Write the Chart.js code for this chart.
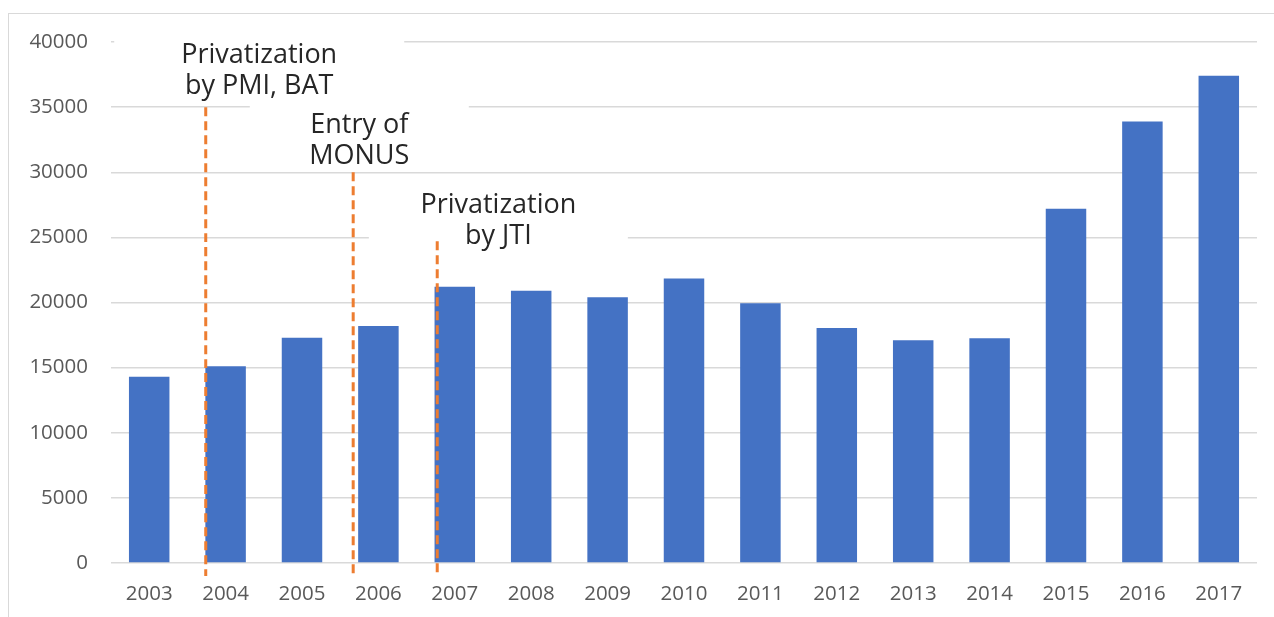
<!DOCTYPE html>
<html>
<head>
<meta charset="utf-8">
<script src="https://cdn.jsdelivr.net/npm/chart.js@4"></script>
<style>
  html, body { margin: 0; padding: 0; background: #ffffff; overflow: hidden; }
  #frame { position: absolute; left: 8px; top: 13px; width: 1400px; height: 800px; border: 1.5px solid #d9d9d9; box-sizing: border-box; }
  #wrap { position: absolute; left: 0; top: 0; width: 1274px; height: 617px; }
</style>
</head>
<body>
<div id="frame"></div>
<div id="wrap"><canvas id="c"></canvas></div>
<script>
// ---- data ----
const years = ['2003','2004','2005','2006','2007','2008','2009','2010','2011','2012','2013','2014','2015','2016','2017'];
const values = [14300, 15100, 17300, 18200, 21200, 20900, 20400, 21850, 19950, 18050, 17100, 17250, 27200, 33900, 37400];
const yTicks = [0, 5000, 10000, 15000, 20000, 25000, 30000, 35000, 40000];

// event markers (position in category units, top / bottom in data units)
const eventPos = [0.74, 2.67, 3.77];
const eventTop = [35000, 30000, 24700];
const eventBottom = [-1000, -1000, -850];

// annotation labels (center in category units, first-line center in data units)
const noteLines = [['Privatization', 'by PMI, BAT'], ['Entry of', 'MONUS'], ['Privatization', 'by JTI']];
const notePos = [1.44, 2.75, 4.57];
const noteY = [38940, 33590, 27440];

// ---- styles ----
const noteBoxW = [290, 219, 259];
const noteFont = '27px "Open Sans"';
const lineGap = 31;

function catPx(x, pos) {
  const f = Math.floor(pos);
  const step = x.getPixelForValue(1) - x.getPixelForValue(0);
  return x.getPixelForValue(f) + (pos - f) * step;
}

const annot = {
  id: 'annot',
  beforeDatasetsDraw(chart) {
    const ctx = chart.ctx, x = chart.scales.x, y = chart.scales.y;
    ctx.save();
    noteLines.forEach((lines, i) => {
      const cx = catPx(x, notePos[i]);
      const cy = y.getPixelForValue(noteY[i]);
      ctx.fillStyle = '#ffffff';
      ctx.fillRect(cx - noteBoxW[i] / 2, cy - 23, noteBoxW[i], lineGap * (lines.length - 1) + 36);
      ctx.fillStyle = '#262626';
      ctx.font = noteFont;
      ctx.textAlign = 'center';
      ctx.textBaseline = 'middle';
      lines.forEach((t, k) => ctx.fillText(t, cx, cy + k * lineGap));
    });
    ctx.restore();
  },
  afterDatasetsDraw(chart) {
    const ctx = chart.ctx, x = chart.scales.x, y = chart.scales.y;
    ctx.save();
    ctx.strokeStyle = '#ED7D31';
    ctx.lineWidth = 3;
    ctx.setLineDash([9, 5]);
    eventPos.forEach((p, i) => {
      const px = catPx(x, p);
      ctx.beginPath();
      ctx.moveTo(px, y.getPixelForValue(eventTop[i]));
      ctx.lineTo(px, y.getPixelForValue(eventBottom[i]));
      ctx.stroke();
    });
    ctx.restore();
  }
};

new Chart(document.getElementById('c'), {
  type: 'bar',
  data: {
    labels: years,
    datasets: [{
      data: values,
      backgroundColor: '#4472C4',
      borderWidth: 0,
      barPercentage: 0.53,
      categoryPercentage: 1.0
    }]
  },
  options: {
    responsive: true,
    maintainAspectRatio: false,
    animation: false,
    layout: { padding: { top: 42, right: 17, left: 0, bottom: 0 } },
    plugins: { legend: { display: false }, tooltip: { enabled: false } },
    scales: {
      x: {
        grid: { display: false, drawTicks: false },
        border: { display: false },
        ticks: { color: '#595959', font: { family: 'Open Sans', size: 20.5 }, padding: 19, maxRotation: 0, autoSkip: false },
        afterFit(s) { s.height = 54; }
      },
      y: {
        min: 0, max: 40000,
        afterBuildTicks(s) { s.ticks = yTicks.map(v => ({ value: v })); },
        grid: { color: '#d9d9d9', lineWidth: 1.5, drawTicks: false },
        border: { display: false },
        ticks: { color: '#595959', font: { family: 'Open Sans', size: 20.5 }, padding: 23, callback: v => String(v) },
        afterFit(s) { s.width = 111; }
      }
    }
  },
  plugins: [annot]
});
</script>
</body>
</html>
